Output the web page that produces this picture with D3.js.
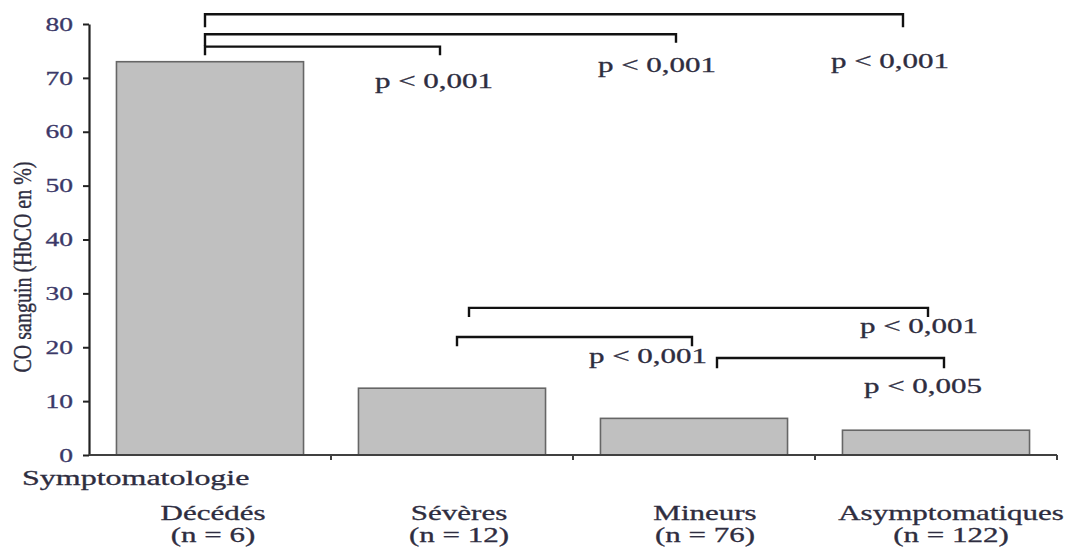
<!DOCTYPE html>
<html>
<head>
<meta charset="utf-8">
<script src="https://d3js.org/d3.v7.min.js"></script>
<style>
  body { margin: 0; background: #fff; }
  text { font-family: "Liberation Serif", "DejaVu Serif", serif; }
</style>
</head>
<body>
<div id="chart"></div>
<script>
// data
const categories = ["Décédés", "Sévères", "Mineurs", "Asymptomatiques"];
const counts = ["(n = 6)", "(n = 12)", "(n = 76)", "(n = 122)"];
const hbco = [73, 12.4, 6.8, 4.6];
const yTicks = [0, 10, 20, 30, 40, 50, 60, 70, 80];

// significance brackets: from / to category, bar level, leg ends (values)
const bracketFrom = [0, 0, 0, 1, 1, 2];
const bracketTo = [3, 2, 1, 3, 2, 3];
const bracketLevel = [81.8, 78.1, 75.8, 27.3, 21.9, 18.0];
const bracketLeftEnd = [79.4, 75.9, 74.2, 25.6, 20.2, 16.1];
const bracketRightEnd = [79.4, 76.5, 74.2, 25.6, 20.2, 16.1];
const pValues = ["p < 0,001", "p < 0,001", "p < 0,001", "p < 0,001", "p < 0,001", "p < 0,005"];

// layout (pixel nudges of the bracket legs and labels)
const legShiftL = [-5, -5, -5, 17, 5, 23];
const legShiftR = [-33, -18, -12, -8, -2, 8];
const labelDx = [-13, -19, -6, -9, -44, -21];
const labelDy = [41, 29, 33, 16, 17, 25];

const W = 1074, H = 553;
const plotLeft = 89, plotRight = 1057, plotTop = 24, plotBottom = 455;
const sx = 1.55; // text is drawn wide, as in the scanned figure

const svg = d3.select("#chart").append("svg")
  .attr("width", W).attr("height", H);

const x = d3.scaleBand().domain(categories).range([plotLeft, plotRight])
  .paddingInner(0.227).paddingOuter(0.1135);
const y = d3.scaleLinear().domain([0, 80]).range([plotBottom, plotTop]);
const step = x.step();
const cx = i => x(categories[i]) + x.bandwidth() / 2;

function wideText(g, tx, ty, str, opts) {
  const col = opts.color || "#2e2d40";
  const t = g.append("text")
    .attr("transform", `translate(${tx},${ty}) scale(${opts.k || sx},1)`)
    .attr("text-anchor", opts.anchor || "start")
    .attr("font-size", opts.size || 20)
    .attr("fill", col)
    .attr("stroke", col)
    .attr("stroke-width", 0.3)
    .text(str);
  if (opts.dy) t.attr("dy", opts.dy);
  return t;
}

// bars
svg.selectAll("rect.bar").data(hbco).enter().append("rect")
  .attr("class", "bar")
  .attr("x", (d, i) => x(categories[i]))
  .attr("y", d => y(d))
  .attr("width", x.bandwidth())
  .attr("height", d => y(0) - y(d))
  .attr("fill", "#c0c0c0")
  .attr("stroke", "#666")
  .attr("stroke-width", 1.6);

// y axis
const yAxis = svg.append("g").attr("transform", `translate(${plotLeft},0)`)
  .call(d3.axisLeft(y).tickValues(yTicks).tickSize(6).tickSizeOuter(0).tickFormat(""));
yAxis.select(".domain").attr("stroke", "#222").attr("stroke-width", 2.2);
yAxis.selectAll(".tick line").attr("stroke", "#222").attr("stroke-width", 2);
yTicks.forEach(v => {
  wideText(svg, 73, y(v), v, { anchor: "end", size: 19, k: 1.45, dy: "0.35em", color: "#3b3868" });
});

// x axis line and boundary ticks
svg.append("line")
  .attr("x1", plotLeft).attr("x2", plotRight).attr("y1", y(0)).attr("y2", y(0))
  .attr("stroke", "#404040").attr("stroke-width", 2);
svg.selectAll("line.xtick").data(categories).enter().append("line")
  .attr("class", "xtick")
  .attr("x1", d => x(d) + x.bandwidth() + step * 0.1135)
  .attr("x2", d => x(d) + x.bandwidth() + step * 0.1135)
  .attr("y1", y(0)).attr("y2", y(0) + 5)
  .attr("stroke", "#404040").attr("stroke-width", 2);

// y axis title
svg.append("text")
  .attr("transform", `translate(31,267) rotate(-90) scale(1,1.3)`)
  .attr("text-anchor", "middle")
  .attr("font-size", 20)
  .attr("fill", "#2e2d40")
  .attr("stroke", "#2e2d40")
  .attr("stroke-width", 0.3)
  .text("CO sanguin (HbCO en %)");

// category labels
wideText(svg, 22, 485, "Symptomatologie", { k: 1.6 });
categories.forEach((c, i) => {
  const px = cx(i) + 3 + 4 * i;
  wideText(svg, px, 520, c, { anchor: "middle" });
  wideText(svg, px, 542, counts[i], { anchor: "middle" });
});

// brackets
const br = svg.append("g").attr("fill", "none").attr("stroke", "#111").attr("stroke-width", 2.4);
bracketFrom.forEach((f, i) => {
  const x1 = cx(f) + legShiftL[i];
  const x2 = cx(bracketTo[i]) + legShiftR[i];
  br.append("path").attr("d",
    `M${x1},${y(bracketLeftEnd[i])} L${x1},${y(bracketLevel[i])} L${x2},${y(bracketLevel[i])} L${x2},${y(bracketRightEnd[i])}`);
  wideText(svg, x2 + labelDx[i], y(bracketRightEnd[i]) + labelDy[i], pValues[i], { anchor: "middle", k: 1.55 });
});
</script>
</body>
</html>
